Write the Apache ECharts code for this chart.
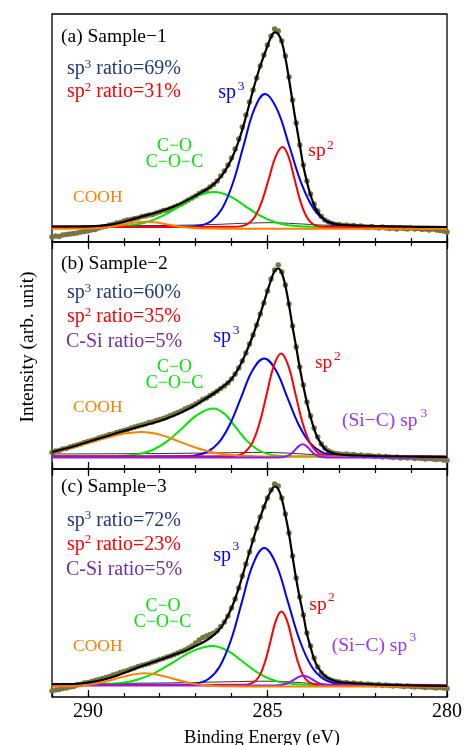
<!DOCTYPE html>
<html>
<head>
<meta charset="utf-8">
<script src="https://cdn.jsdelivr.net/npm/echarts@6/dist/echarts.min.js"></script>
<style>
html,body{margin:0;padding:0;background:#fff;}
#chart{width:471px;height:745px;}
</style>
</head>
<body>
<div id="chart"></div>
<script>
// ---------- shared energy grid for measured points (eV) ----------
const energy = [
291,290.9,290.8,290.7,290.6,290.5,290.4,290.3,290.2,290.1,
290,289.9,289.8,289.7,289.6,289.5,289.4,289.3,289.2,289.1,
289,288.9,288.8,288.7,288.6,288.5,288.4,288.3,288.2,288.1,
288,287.9,287.8,287.7,287.6,287.5,287.4,287.3,287.2,287.1,
287,286.9,286.8,286.7,286.6,286.5,286.4,286.3,286.2,286.1,
286,285.9,285.8,285.7,285.6,285.5,285.4,285.3,285.2,285.1,
285,284.9,284.8,284.7,284.6,284.5,284.4,284.3,284.2,284.1,
284,283.9,283.8,283.7,283.6,283.5,283.4,283.3,283.2,283.1,
283,282.9,282.8,282.7,282.6,282.5,282.4,282.3,282.2,282.1,
282,281.9,281.8,281.7,281.6,281.5,281.4,281.3,281.2,281.1,
281,280.9,280.8,280.7,280.6,280.5,280.4,280.3,280.2,280.1,
280];
const xTickLabels = [290, 285, 280];

// ---------- (a) Sample-1 ----------
const a_points = [
5,6,5.5,7,7.5,8,8.5,9,10,10.5,
11,12,12.5,14,15,15.5,17,17.5,19,19.5,
21,22,22.5,23.5,24,25.5,26,27,27.5,29,
30,31.5,32,33.5,35,36.5,38,40,42,44,
46,48.5,50.5,52,55,57.5,61,66,71,77,
84,93,103,115,127,140,152,164,176,187,
197,206,213,211,201,186,165,142,119,97,
77,61,48,38,31,25.5,22,20,18.5,17.5,
17.5,16.5,17,16,16.5,15.5,16,15,14.5,15.5,
14.5,14,15,14,13.5,14,13,14,13.5,13,
14,13,13.5,12.5,13,12,13,12,11.5,11,
10];
const a_fit = [[291,15.5],[290.5,15.5],[290,15.7],[289.5,16.8],[289,20.3],[288.5,25.5],[288,30.5],[287.5,37],[287.2,42.4],[287,46.3],[286.8,50.4],[286.6,54.8],[286.4,61],[286.2,70],[286,83],[285.8,101],[285.6,125],[285.4,152],[285.2,176],[285,196],[284.9,205],[284.8,209.7],[284.7,208],[284.6,200],[284.5,184],[284.4,163],[284.3,140],[284.2,118],[284.1,97],[284,76],[283.9,60],[283.8,47],[283.7,37],[283.6,30],[283.4,22],[283.2,19],[283,17.5],[282.5,16.5],[282,16],[281,15.3],[280,15]];
const a_base = [[291,16],[288,16.5],[286.5,17.5],[285.6,18.8],[284.9,19.3],[284.2,18.3],[283.4,16.8],[282.5,15.8],[281,15.2],[280,15]];
const a_sp3 = [[291,15],[287.17,15.3],[286.87,16.5],[286.57,20.8],[286.27,33.0],[285.97,58.2],[285.67,95.7],[285.37,132.4],[285.07,148],[284.73,132.4],[284.39,95.7],[284.05,58.2],[283.71,33.0],[283.37,20.8],[283.03,16.5],[282.69,15.3],[280,15]];
const a_sp2 = [[291,15],[285.91,15.2],[285.72,15.9],[285.53,18.5],[285.34,25.8],[285.15,41],[284.96,63.5],[284.77,85.6],[284.58,95],[284.415,85.6],[284.25,63.5],[284.085,41],[283.92,25.8],[283.755,18.5],[283.59,15.9],[283.425,15.2],[280,15]];
const a_co = [[291,15],[289.805,15.1],[289.33,15.4],[288.855,16.5],[288.38,19.7],[287.905,26.4],[287.43,36.2],[286.955,45.9],[286.48,50],[286.055,45.9],[285.63,36.2],[285.205,26.4],[284.78,19.7],[284.355,16.5],[283.93,15.4],[283.505,15.1],[280,15]];
const a_cooh = [[291,13.3],[290.48,13.3],[290.18,13.4],[289.88,13.6],[289.58,14.2],[289.28,15.5],[288.98,17.5],[288.68,19.4],[288.38,20.2],[288.08,19.4],[287.78,17.5],[287.48,15.5],[287.18,14.2],[286.88,13.6],[286.58,13.4],[286.28,13.3],[280,13.3]];

// ---------- (b) Sample-2 ----------
const b_points = [
16.5,18,18.5,20,20.5,22,23,24,25,26.5,
27.5,28.5,29.5,31,32,33,34.5,35,36.5,37.5,
38.5,39.5,41,42,43,44,45,46.5,47,48.5,
49.5,50.5,52,53.5,55,56.5,58,60,61.5,63,
65,67,69.5,71,73.5,75.5,78,80.5,83,86,
90,95,101,108,116,125,134,144,155,166,
178,190,199,204,197,184,165,143,122,102,
84,67,53,41,32,25,21,18,16.5,15.5,
15,14.5,15,14,14.5,13.5,14,13,13.5,13,
12.5,13,12,12.5,12,11.5,12,11,11.5,11,
11.5,10.5,11,10.5,10,10.5,10,9.5,10,9,
8.5];
const b_fit = [[291,17],[290.5,21.5],[290,27],[289.5,32.5],[289,38],[288.5,43],[288,48],[287.5,55],[287.2,60],[287,64],[286.8,68.5],[286.6,73],[286.4,78],[286.2,83.5],[286,90],[285.8,101],[285.6,116],[285.4,134],[285.2,155],[285,178],[284.9,189],[284.8,198],[284.7,200.5],[284.6,196],[284.5,183],[284.4,164],[284.3,142],[284.2,122],[284.1,101],[284,83],[283.9,66],[283.8,52],[283.7,40],[283.6,31],[283.4,20],[283.2,16],[283,14.5],[282.5,13.5],[282,13],[281,12.5],[280,12]];
const b_base = [[291,15],[288,15.5],[286,16.3],[285.2,16.6],[284.5,16],[283.5,14],[282.5,13],[280,12.5]];
const b_sp3 = [[291,12.5],[287.33,12.7],[287.01,13.6],[286.69,16.8],[286.37,25.8],[286.05,44.3],[285.73,71.9],[285.41,99],[285.09,110.5],[284.77,99],[284.45,71.9],[284.13,44.3],[283.81,25.8],[283.49,16.8],[283.17,13.6],[282.85,12.7],[280,12.5]];
const b_sp2 = [[291,12.5],[286.02,12.7],[285.82,13.6],[285.62,17],[285.42,26.4],[285.22,45.9],[285.02,75],[284.82,103.4],[284.62,115.5],[284.42,103.4],[284.22,75],[284.02,45.9],[283.82,26.4],[283.62,17],[283.42,13.6],[283.22,12.7],[280,12.5]];
const b_co = [[291,12.5],[289.475,12.6],[289.05,13],[288.625,14.6],[288.2,19],[287.775,28.1],[287.35,41.6],[286.925,54.9],[286.5,60.5],[286.19,54.9],[285.88,41.6],[285.57,28.1],[285.26,19],[284.95,14.6],[284.64,13],[284.33,12.6],[280,12.5]];
const b_cooh = [[291,16.9],[290.525,20.5],[289.85,27.4],[289.175,34.1],[288.5,37],[287.975,34.1],[287.45,27.4],[286.925,20.5],[286.4,15.8],[285.875,13.6],[285.35,12.8],[284.825,12.55],[280,12.5]];
const b_sic = [[291,11.5],[284.72,11.5],[284.62,11.65],[284.52,12.1],[284.42,13.3],[284.32,15.8],[284.22,19.5],[284.12,23.1],[284.02,24.7],[283.92,23.1],[283.82,19.5],[283.72,15.8],[283.62,13.3],[283.52,12.1],[283.42,11.65],[283.32,11.5],[280,11.5]];

// ---------- (c) Sample-3 ----------
const c_points = [
6,7,7.5,8.5,9,10,10.5,12,12.5,14,
14.5,15.5,16.5,17.5,18.5,19.5,20.5,22,23,24.5,
25.5,26.5,28,29,30.5,31.5,32.5,33.5,35,36,
37.5,38.5,40,41,42.5,44,45.5,47,49,51,
54,57,59.5,61,62.5,64,66.5,70.5,75,81,
89,98,109,121,133,145,157,169,180,190,
199,207,213,211,199,183,164,141,119,100,
82,64,51,39,30,24,20.5,18,16.5,15.5,
15,14,14.5,13.5,14,13,13.5,12.5,13,12.5,
12,12.5,11.5,12,11.5,11,11.5,11,10.5,11,
10.5,10,10.5,10,9.5,10,9.5,9,9.5,9,
8.5];
const c_fit = [[291,13],[290.5,13],[290,14.5],[289.5,18],[289,24],[288.5,31],[288,37],[287.5,43.5],[287.2,47.5],[287,51],[286.8,54.5],[286.6,59],[286.4,65],[286.2,74.5],[286,89],[285.8,109],[285.6,133],[285.4,157],[285.2,180],[285,199],[284.9,206],[284.8,210.5],[284.7,208],[284.6,198],[284.5,182],[284.4,163],[284.3,140],[284.2,118],[284.1,99],[284,82],[283.9,63],[283.8,50],[283.7,38],[283.6,30],[283.4,21],[283.2,17],[283,15],[282.5,13.5],[282,12.5],[281,11.5],[280,11]];
const c_base = [[291,13.5],[288,14],[286,15.3],[285.2,15.8],[284.5,15.3],[283.5,13],[282.5,12],[280,11.5]];
const c_sp3 = [[291,12],[287.26,12.3],[286.95,13.5],[286.64,18],[286.33,30.5],[286.02,56.5],[285.71,95.1],[285.4,132.9],[285.09,149],[284.76,132.9],[284.43,95.1],[284.1,56.5],[283.77,30.5],[283.44,18],[283.11,13.5],[282.78,12.3],[280,12]];
const c_sp2 = [[291,12],[285.66,12.2],[285.51,12.8],[285.36,15.2],[285.21,21.9],[285.06,35.9],[284.91,56.6],[284.76,76.9],[284.61,85.5],[284.46,76.9],[284.31,56.6],[284.16,35.9],[284.01,21.9],[283.86,15.2],[283.71,12.8],[283.56,12.2],[280,12]];
const c_co = [[291,12],[290.205,12.1],[289.68,12.4],[289.155,13.7],[288.63,17.3],[288.105,24.7],[287.58,35.7],[287.055,46.4],[286.53,51],[286.115,46.4],[285.7,35.7],[285.285,24.7],[284.87,17.3],[284.455,13.7],[284.04,12.4],[283.625,12.1],[280,12]];
const c_cooh = [[291,10.55],[290.76,10.65],[290.37,11.1],[289.98,12.3],[289.59,14.8],[289.2,18.5],[288.81,22.1],[288.42,23.7],[288.03,22.1],[287.64,18.5],[287.25,14.8],[286.86,12.3],[286.47,11.1],[286.08,10.65],[285.69,10.5],[280,10.5]];
const c_sic = [[291,11.5],[284.91,11.5],[284.78,11.6],[284.65,11.9],[284.52,12.8],[284.39,14.7],[284.26,17.4],[284.13,20.1],[284,21.3],[283.87,20.1],[283.74,17.4],[283.61,14.7],[283.48,12.8],[283.35,11.9],[283.22,11.6],[283.09,11.5],[280,11.5]];

// ---------- styling ----------
const SERIF = '"Liberation Serif", "Times New Roman", Times, serif';
const C_BLUE = '#0000ff', C_RED = '#ff0000', C_GREEN = '#00e600', C_ORANGE = '#ff8000',
      C_PURPLE = '#8c1aff', C_NAVY = '#1f3a78', C_PURD = '#7030a0', C_VIOLET = '#9933ff',
      C_PTS = '#77763f';

const grids = [
  {left: 52, top: 14, width: 395, height: 228},
  {left: 52, top: 242, width: 395, height: 227},
  {left: 52, top: 469, width: 395, height: 228}
].map(g => Object.assign(g, {show: true, borderColor: '#000', borderWidth: 1.3, backgroundColor: 'transparent'}));

const tickStyle = {color: '#000', width: 1.2};
const xAxes = [];
for (let gi = 0; gi < 3; gi++) {
  const base = {gridIndex: gi, type: 'value', min: 280, max: 291, inverse: true,
    axisLine: {show: false}, splitLine: {show: false}};
  xAxes.push(Object.assign({}, base, {position: 'bottom', interval: 1,
    axisTick: {show: true, inside: true, length: 4, lineStyle: tickStyle}, axisLabel: {show: false}}));
  xAxes.push(Object.assign({}, base, {position: 'bottom', interval: 5,
    axisTick: {show: true, inside: true, length: 7, lineStyle: tickStyle},
    axisLabel: {show: gi === 2, margin: 5, fontSize: 20, fontFamily: SERIF, color: '#000',
      formatter: v => (xTickLabels.indexOf(v) >= 0 ? String(v) : '')}}));
  xAxes.push(Object.assign({}, base, {position: 'top', interval: 1,
    axisTick: {show: gi > 0, inside: true, length: 4, lineStyle: tickStyle}, axisLabel: {show: false}}));
  xAxes.push(Object.assign({}, base, {position: 'top', interval: 5,
    axisTick: {show: gi > 0, inside: true, length: 7, lineStyle: tickStyle}, axisLabel: {show: false}}));
}
const yAxes = grids.map((g, gi) => ({gridIndex: gi, type: 'value', min: 0, max: g.height, show: false}));

function line(gi, data, color, width, z) {
  return {type: 'line', xAxisIndex: gi * 4, yAxisIndex: gi, data: data, symbol: 'none', showSymbol: false,
    smooth: 0.4, lineStyle: {color: color, width: width}, z: z, silent: true};
}
function pts(gi, vals) {
  return {type: 'scatter', xAxisIndex: gi * 4, yAxisIndex: gi, data: energy.map((e, i) => [e, vals[i]]),
    symbol: 'circle', symbolSize: 5.5, itemStyle: {color: C_PTS, opacity: 1}, z: 1, silent: true};
}

const series = [
  pts(0, a_points),
  line(0, a_base, '#333', 1, 2),
  line(0, a_co, C_GREEN, 2, 3),
  line(0, a_sp3, C_BLUE, 2, 3),
  line(0, a_sp2, C_RED, 2, 3),
  line(0, a_cooh, C_ORANGE, 2, 4),
  line(0, a_fit, '#000', 2.2, 6),

  pts(1, b_points),
  line(1, b_base, '#333', 1, 2),
  line(1, b_co, C_GREEN, 2, 3),
  line(1, b_sp3, C_BLUE, 2, 3),
  line(1, b_sp2, C_RED, 2, 3),
  line(1, b_cooh, C_ORANGE, 2, 3),
  line(1, b_sic, C_PURPLE, 2, 4),
  line(1, b_fit, '#000', 2.2, 6),

  pts(2, c_points),
  line(2, c_base, '#333', 1, 2),
  line(2, c_co, C_GREEN, 2, 3),
  line(2, c_sp3, C_BLUE, 2, 3),
  line(2, c_sp2, C_RED, 2, 3),
  line(2, c_sic, C_PURPLE, 2, 3),
  line(2, c_cooh, C_ORANGE, 2, 4),
  line(2, c_fit, '#000', 2.2, 6)
];

// ---------- text helpers ----------
function T(x, y, text, size, color, align) {
  align = align || 'left';
  return {type: 'text', x: x, y: y, z: 100, silent: true,
    style: {text: text, fontSize: size, fontFamily: SERIF, fill: color,
      align: align, verticalAlign: 'middle', textAlign: align, textVerticalAlign: 'middle'}};
}
function R(x, y, a, sup, b, color) {
  const text = sup ? '{n|' + a + '}{s|' + sup + '}{n|' + b + '}' : '{n|' + a + '}';
  return {type: 'text', x: x, y: y, z: 100, silent: true,
    style: {text: text, fill: color, fontSize: 20, fontFamily: SERIF,
      align: 'left', verticalAlign: 'middle', textAlign: 'left', textVerticalAlign: 'middle',
      rich: {
        n: {fontSize: 20, fontFamily: SERIF, fill: color, color: color, lineHeight: 22},
        s: {fontSize: 13, fontFamily: SERIF, fill: color, color: color, verticalAlign: 'top'}
      }}};
}

const graphics = [
  T(61, 37, '(a) Sample\u22121', 19.5, '#000'),
  R(67, 68.6, 'sp', '3', ' ratio=69%', C_NAVY),
  R(67, 91.9, 'sp', '2', ' ratio=31%', C_RED),
  T(218.3, 92.6, 'sp', 20, C_BLUE), T(237.8, 86.3, '3', 13.5, C_BLUE),
  T(308.3, 151, 'sp', 19.5, C_RED), T(327, 145.6, '2', 13.5, C_RED),
  T(174.5, 146.2, 'C\u2212O', 18, C_GREEN, 'center'),
  T(174.5, 162.2, 'C\u2212O\u2212C', 18, C_GREEN, 'center'),
  T(73, 197.5, 'COOH', 17.5, C_ORANGE),

  T(61, 263.8, '(b) Sample\u22122', 19.5, '#000'),
  R(67, 292.9, 'sp', '3', ' ratio=60%', C_NAVY),
  R(67, 316.9, 'sp', '2', ' ratio=35%', C_RED),
  R(66, 341.9, 'C-Si ratio=5%', null, null, C_PURD),
  T(213.3, 336.9, 'sp', 20, C_BLUE), T(232.8, 330.6, '3', 13.5, C_BLUE),
  T(315, 363, 'sp', 19.5, C_RED), T(334, 356.6, '2', 13.5, C_RED),
  T(174.5, 366.9, 'C\u2212O', 18, C_GREEN, 'center'),
  T(174.5, 383.5, 'C\u2212O\u2212C', 18, C_GREEN, 'center'),
  T(73, 407.7, 'COOH', 17.5, C_ORANGE),
  T(342, 420.6, '(Si\u2212C) sp', 19.5, C_VIOLET), T(420.5, 413.9, '3', 13.5, C_VIOLET),

  T(61, 487.1, '(c) Sample\u22123', 19.5, '#000'),
  R(67, 520.3, 'sp', '3', ' ratio=72%', C_NAVY),
  R(67, 544.3, 'sp', '2', ' ratio=23%', C_RED),
  R(66, 569.6, 'C-Si ratio=5%', null, null, C_PURD),
  T(213.3, 555.3, 'sp', 20, C_BLUE), T(232.5, 546.6, '3', 13.5, C_BLUE),
  T(309.3, 604.8, 'sp', 19.5, C_RED), T(328, 597.6, '2', 13.5, C_RED),
  T(163, 605.9, 'C\u2212O', 18, C_GREEN, 'center'),
  T(162.5, 622.5, 'C\u2212O\u2212C', 18, C_GREEN, 'center'),
  T(73, 646.7, 'COOH', 17.5, C_ORANGE),
  T(331.7, 646, '(Si\u2212C) sp', 19.5, C_VIOLET), T(409.5, 637.3, '3', 13.5, C_VIOLET),

  {type: 'text', x: 28, y: 347, rotation: Math.PI / 2, z: 100, silent: true,
    style: {text: 'Intensity (arb. unit)', fontSize: 19.5, fontFamily: SERIF, fill: '#000',
      align: 'center', verticalAlign: 'middle', textAlign: 'center', textVerticalAlign: 'middle'}},
  T(262, 738, 'Binding Energy (eV)', 18.5, '#000', 'center')
];

const chart = echarts.init(document.getElementById('chart'), null, {renderer: 'canvas'});
chart.setOption({
  backgroundColor: '#fff',
  animation: false,
  grid: grids,
  xAxis: xAxes,
  yAxis: yAxes,
  series: series,
  graphic: {elements: graphics}
});
</script>
</body>
</html>
